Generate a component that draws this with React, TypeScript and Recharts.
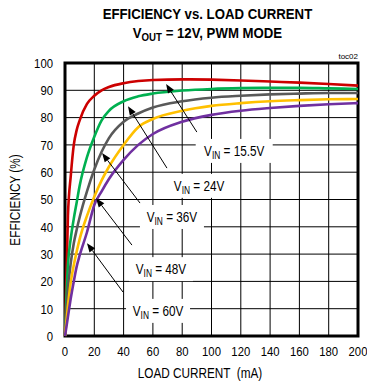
import {
  LineChart,
  Line,
  XAxis,
  YAxis,
  CartesianGrid,
  ReferenceLine,
  ReferenceDot,
  ReferenceArea,
} from "recharts";

// load current (mA) and efficiency (%)
const loadCurrent = [0, 2, 4, 6, 8, 10, 15, 20, 25, 30, 40, 50, 60, 80, 100, 120, 140, 160, 180, 200];
const effVin15_5 = [0, 44, 59, 70, 75.5, 79, 85, 88, 90, 91.2, 92.6, 93.4, 93.8, 94, 93.9, 93.6, 93.2, 92.8, 92.3, 91.7];
const effVin24 = [0, 26, 36, 43, 49, 55, 65.5, 73, 79, 82.5, 86, 87.8, 88.8, 89.9, 90.5, 90.8, 90.9, 90.9, 90.7, 90.5];
const effVin36 = [0, 17, 27, 34, 39, 43.5, 53, 61, 67.5, 72.5, 78.5, 81.5, 83.7, 86, 87.3, 88, 88.5, 88.8, 89, 89];
const effVin48 = [0, 11, 20, 26, 31, 35.5, 44, 51, 57, 62, 70, 76.5, 79.5, 82.5, 84.3, 85.3, 86, 86.4, 86.7, 86.8];
const effVin60 = [0, 7, 14, 20, 25.5, 29.5, 38, 48, 53, 57.5, 64.5, 70, 74, 78.5, 81, 82.5, 83.5, 84.3, 84.9, 85.3];

const xTicks = [0, 20, 40, 60, 80, 100, 120, 140, 160, 180, 200];
const yTicks = [0, 10, 20, 30, 40, 50, 60, 70, 80, 90, 100];

const FONT = "'Liberation Sans', Arial, sans-serif";
const NARROW = 0.84; // the original uses a condensed face

const series = [
  { key: "v15", color: "#cc0000" },
  { key: "v24", color: "#00b050" },
  { key: "v36", color: "#595959" },
  { key: "v48", color: "#ffc000" },
  { key: "v60", color: "#7030a0" },
];

const rows = loadCurrent.map((x, i) => ({
  x,
  v15: effVin15_5[i],
  v24: effVin24[i],
  v36: effVin36[i],
  v48: effVin48[i],
  v60: effVin60[i],
}));

// callouts: label centre, box width, arrow tail -> head (data units)
const callouts = [
  { text: "15.5V", cx: 115.5, cy: 67.8, w: 77, tail: [90, 74.7], head: [69, 92.3] },
  { text: "24V", cx: 91.5, cy: 55, w: 66, tail: [69.6, 61.5], head: [43, 84.2] },
  { text: "36V", cx: 73, cy: 43.6, w: 64, tail: [51.2, 48.7], head: [25.3, 67] },
  { text: "48V", cx: 65.5, cy: 24.5, w: 64, tail: [45.7, 33.3], head: [21.2, 50.5] },
  { text: "60V", cx: 63.5, cy: 9.2, w: 64, tail: [39.6, 16.1], head: [15, 34] },
];

function Arrow(props: any) {
  const { x1, y1, x2, y2 } = props;
  const ang = Math.atan2(y2 - y1, x2 - x1);
  const len = 9;
  const half = 3.5;
  const bx = x2 - len * Math.cos(ang);
  const by = y2 - len * Math.sin(ang);
  const px = -Math.sin(ang) * half;
  const py = Math.cos(ang) * half;
  return (
    <g>
      <line x1={x1} y1={y1} x2={bx} y2={by} stroke="#000" strokeWidth={1} />
      <polygon
        points={`${x2},${y2} ${bx + px},${by + py} ${bx - px},${by - py}`}
        fill="#000"
      />
    </g>
  );
}

function VinTag({ cx, cy, text, w }: any) {
  return (
    <g>
      <rect x={cx - w / 2} y={cy - 12} width={w} height={24} fill="#fff" />
      <text
        x={0}
        y={0}
        transform={`translate(${cx},${cy + 5}) scale(${NARROW},1)`}
        textAnchor="middle"
        fontSize={14}
        fontFamily={FONT}
        fill="#000"
      >
        V<tspan fontSize={10} dy={3}>IN</tspan>
        <tspan dy={-3}> = {text}</tspan>
      </text>
    </g>
  );
}

function XTick({ x, y, payload }: any) {
  return (
    <text
      x={0}
      y={0}
      dy="0.71em"
      transform={`translate(${x},${y}) scale(${NARROW},1)`}
      textAnchor="middle"
      fontSize={13.5}
      fontFamily={FONT}
      fill="#000"
    >
      {payload.value}
    </text>
  );
}

function YTick({ x, y, payload }: any) {
  return (
    <text
      x={0}
      y={0}
      dy="0.355em"
      transform={`translate(${x},${y}) scale(${NARROW},1)`}
      textAnchor="end"
      fontSize={13.5}
      fontFamily={FONT}
      fill="#000"
    >
      {payload.value}
    </text>
  );
}

export default function App() {
  return (
    <div
      style={{
        position: "relative",
        width: 367,
        height: 383,
        background: "#fff",
        fontFamily: FONT,
        color: "#000",
        overflow: "hidden",
      }}
    >
      <style>{"body{margin:0}"}</style>
      <div
        style={{
          position: "absolute",
          top: 4,
          left: 0,
          width: 415,
          textAlign: "center",
          fontWeight: "bold",
          fontSize: 15,
          lineHeight: "19px",
          transform: "scaleX(0.88)",
          transformOrigin: "207px 0",
        }}
      >
        <div>EFFICIENCY vs. LOAD CURRENT</div>
        <div>
          V<sub style={{ fontSize: 11, verticalAlign: -3 }}>OUT</sub> = 12V, PWM MODE
        </div>
      </div>
      <div
        style={{
          position: "absolute",
          top: 52,
          right: 9,
          fontSize: 8,
        }}
      >
        toc02
      </div>
      <div
        style={{
          position: "absolute",
          left: 0,
          width: 400,
          top: 364,
          textAlign: "center",
          fontSize: 14,
          lineHeight: "18px",
          transform: `scaleX(${NARROW})`,
          transformOrigin: "200px 0",
          whiteSpace: "pre",
        }}
      >
        {"LOAD CURRENT  (mA)"}
      </div>
      <div
        style={{
          position: "absolute",
          left: 15,
          top: 200,
          width: 0,
          height: 0,
        }}
      >
        <div
          style={{
            position: "absolute",
            left: -80,
            top: -9,
            width: 160,
            textAlign: "center",
            fontSize: 14,
            lineHeight: "18px",
            transform: `rotate(-90deg) scaleX(${NARROW})`,
            transformOrigin: "80px 9px",
          }}
        >
          EFFICIENCY (%)
        </div>
      </div>
      <LineChart
        width={367}
        height={383}
        data={rows}
        margin={{ top: 63, right: 9, bottom: 0, left: 0 }}
      >
        <CartesianGrid stroke="#000" strokeWidth={1} />
        <XAxis
          dataKey="x"
          type="number"
          domain={[0, 200]}
          ticks={xTicks}
          height={47}
          axisLine={false}
          tickLine={false}
          tickSize={0}
          tickMargin={10}
          tick={<XTick />}
          interval={0}
        />
        <YAxis
          type="number"
          domain={[0, 100]}
          ticks={yTicks}
          width={65}
          axisLine={false}
          tickLine={false}
          tickSize={0}
          tickMargin={12}
          tick={<YTick />}
          interval={0}
        />
        {series.map((s) => (
          <Line
            key={s.key}
            dataKey={s.key}
            type="monotone"
            stroke={s.color}
            strokeWidth={2.6}
            dot={false}
            isAnimationActive={false}
          />
        ))}
        <ReferenceArea
          x1={0}
          x2={200}
          y1={0}
          y2={100}
          fill="none"
          stroke="#000"
          strokeWidth={3}
        />
        {callouts.map((c) => (
          <ReferenceLine
            key={"a" + c.text}
            segment={[
              { x: c.tail[0], y: c.tail[1] },
              { x: c.head[0], y: c.head[1] },
            ]}
            shape={(p: any) => <Arrow {...p} />}
          />
        ))}
        {callouts.map((c) => (
          <ReferenceDot
            key={"t" + c.text}
            x={c.cx}
            y={c.cy}
            r={1}
            shape={(p: any) => (
              <VinTag cx={p.cx} cy={p.cy} text={c.text} w={c.w} />
            )}
          />
        ))}
      </LineChart>
    </div>
  );
}
